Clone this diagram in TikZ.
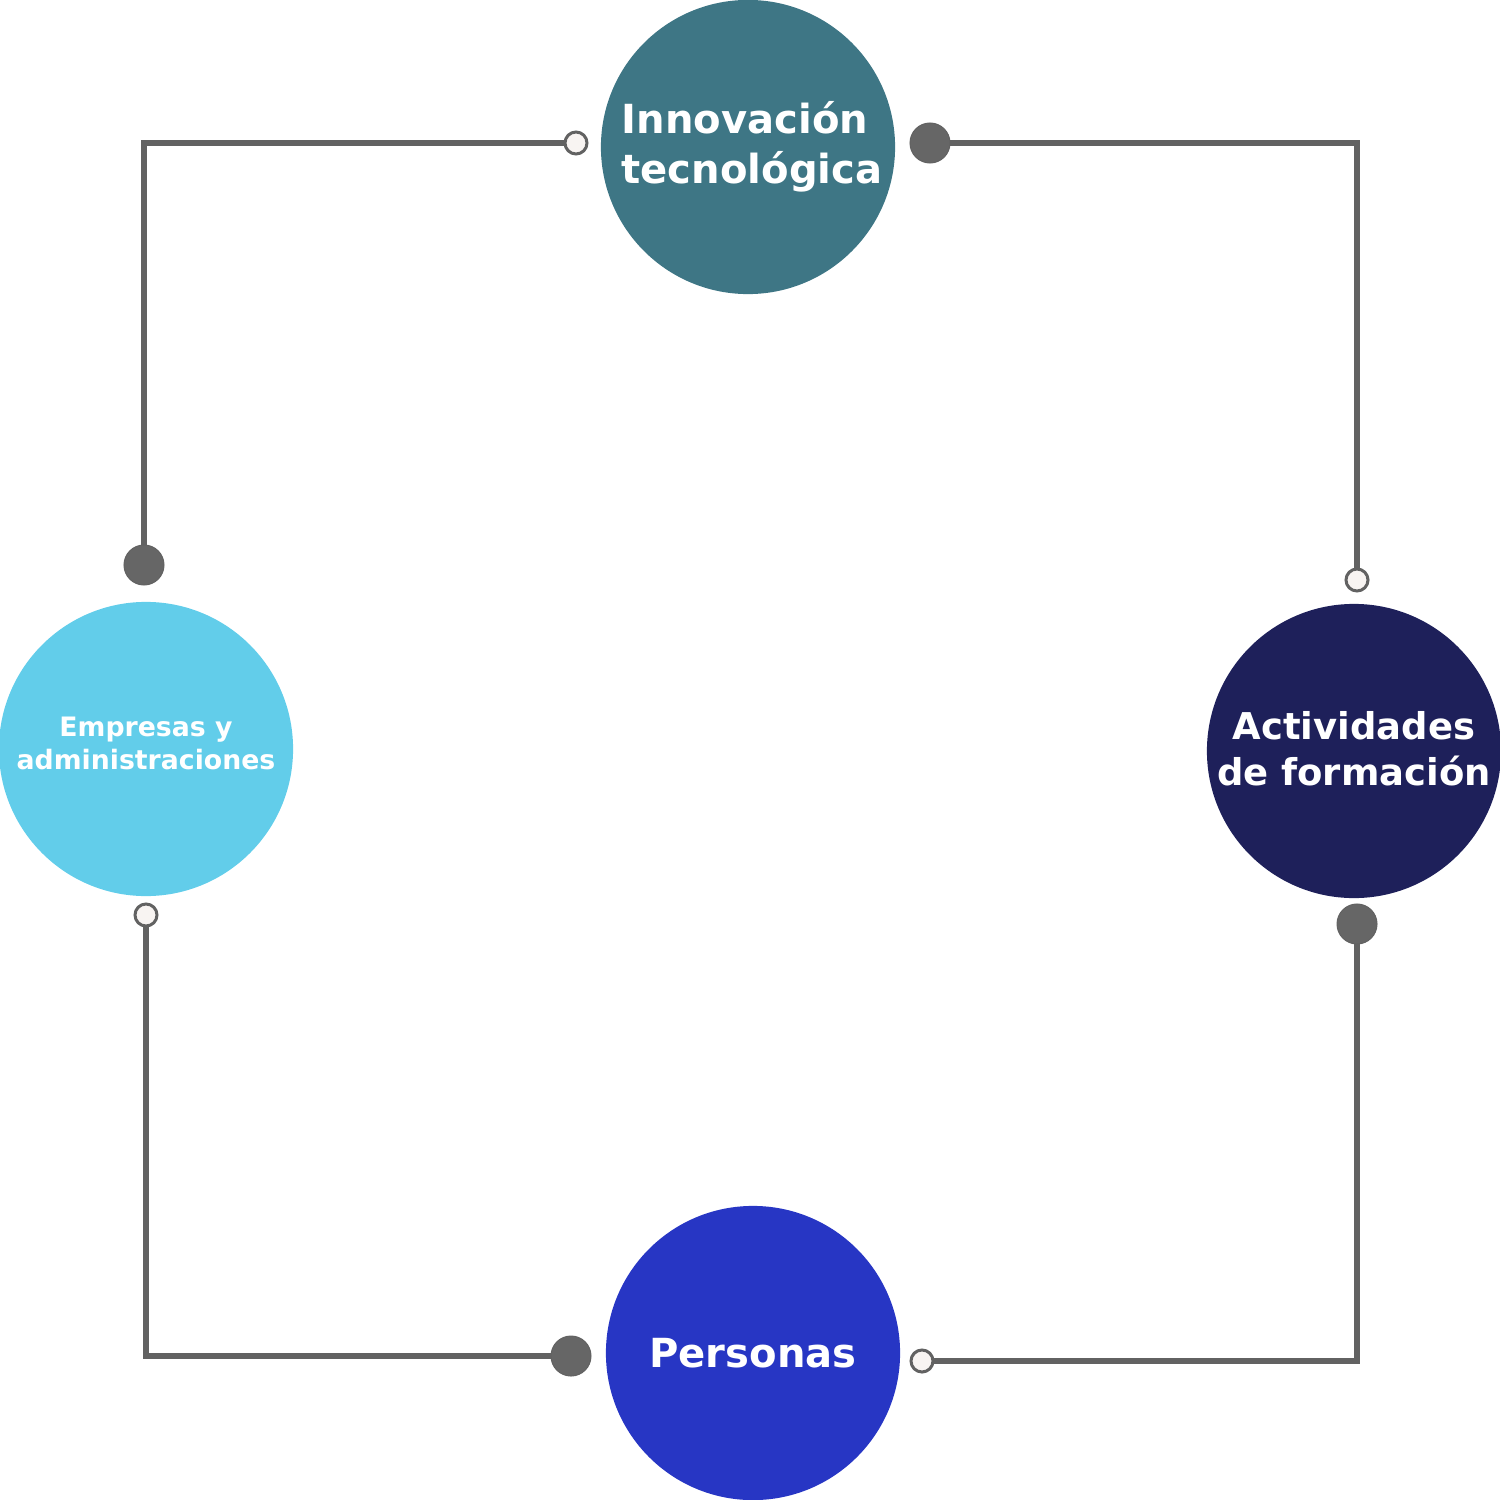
\documentclass[tikz,border=0pt]{standalone}
\usepackage{fontspec}
\setmainfont{DejaVu Sans}
\usepackage{tikz}

\definecolor{innovcol}{HTML}{3E7685}
\definecolor{activcol}{HTML}{1E205A}
\definecolor{perscol}{HTML}{2736C4}
\definecolor{emprcol}{HTML}{62CDEA}
\definecolor{wirecol}{HTML}{626262}
\definecolor{plugcol}{HTML}{666666}
\definecolor{sockcol}{HTML}{F8F4F2}

\begin{document}
\begin{tikzpicture}[x=0.01cm,y=-0.01cm,
	bubble/.style={circle,minimum size=2.94cm,inner sep=0pt},
	bigtext/.style={text=white,align=center,inner sep=0pt,
		font=\fontsize{11.4}{14.2}\selectfont\bfseries},
	midtext/.style={bigtext,font=\fontsize{10.5}{13.1}\selectfont\bfseries},
	smalltext/.style={bigtext,font=\fontsize{7.6}{9.4}\selectfont\bfseries},
	wire/.style={wirecol,line width=0.055cm},
	plug/.style={circle,fill=plugcol,draw=wirecol,line width=0.01cm,minimum size=0.4cm,inner sep=0pt},
	socket/.style={circle,fill=sockcol,draw=wirecol,line width=0.03cm,minimum size=0.22cm,inner sep=0pt}]
		\useasboundingbox (0,0) rectangle (1500,1500);
		% circles
		\node[bubble,fill=innovcol,label={[bigtext,xshift=0.04cm]center:Innovación\hspace*{0.14cm}\\tecnológica}] (innov) at (748,147) {};
		\node[bubble,fill=activcol,label={[midtext,yshift=0.02cm]center:Actividades\\de formación}] (activ) at (1354,751) {};
		\node[bubble,fill=perscol,label={[bigtext]center:Personas}] (pers) at (753,1353) {};
		\node[bubble,fill=emprcol,label={[smalltext,yshift=0.06cm]center:Empresas y\\administraciones}] (empr) at (146,749) {};
		% ends of the links
		\coordinate (s1) at (576,143);
		\coordinate (p1) at (144,565);
		\coordinate (p2) at (930,143);
		\coordinate (s2) at (1357,580);
		\coordinate (p3) at (1357,924);
		\coordinate (s3) at (922,1361);
		\coordinate (s4) at (146,915);
		\coordinate (p4) at (571,1356);
		\draw[wire] (s1) -| (p1);
		\draw[wire] (p2) -| (s2);
		\draw[wire] (p3) |- (s3);
		\draw[wire] (s4) |- (p4);
		\foreach \p in {p1,p2,p3,p4}
			\node[plug] (\p dot) at (\p) {};
		\foreach \s in {s1,s2,s3,s4}
			\node[socket] (\s dot) at (\s) {};
\end{tikzpicture}
\end{document}
